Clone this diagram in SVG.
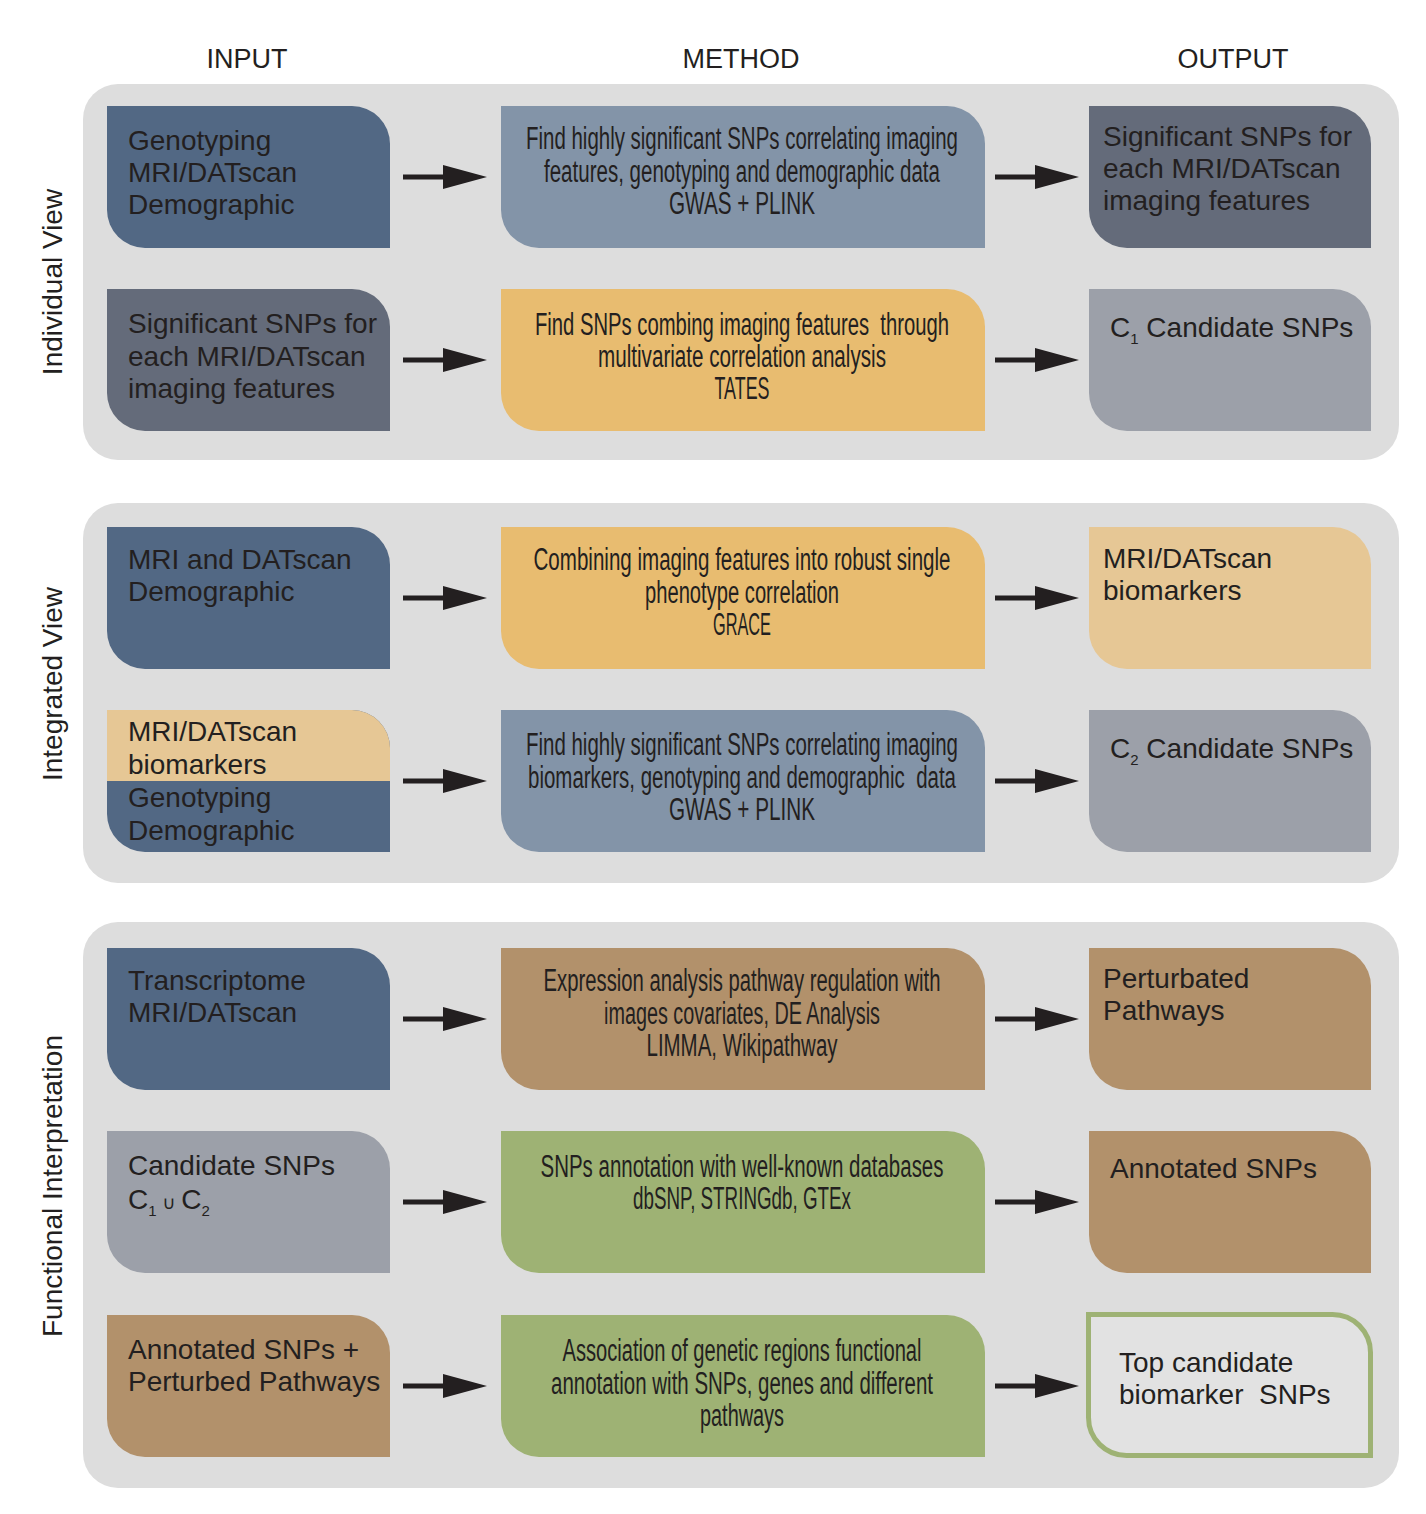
<svg xmlns="http://www.w3.org/2000/svg" xmlns:xlink="http://www.w3.org/1999/xlink" width="1426" height="1514" viewBox="0 0 1426 1514">
<style>
.panel{fill:#dddddd}
.hdr{font-family:"Liberation Sans",Arial,sans-serif;font-size:27px;fill:#231f20;text-anchor:middle}
.side{font-family:"Liberation Sans",Arial,sans-serif;font-size:28px;fill:#231f20;text-anchor:middle}
.nt{font-family:"Liberation Sans",Arial,sans-serif;font-size:28px;fill:#231f20;white-space:pre}
.mt{font-family:"Liberation Sans Narrow","Liberation Sans",Arial,sans-serif;font-size:31px;fill:#231f20;text-anchor:middle;white-space:pre}
.sub{font-size:15px}
.blue{fill:#526884}
.slate{fill:#8394a8}
.dgray{fill:#646b7a}
.lgray{fill:#9ca0a9}
.yel{fill:#e8bc70}
.lyel{fill:#e6c795}
.brown{fill:#b2916b}
.green{fill:#9eb274}
.conn line{stroke:#231f20;stroke-width:5}
</style>
<defs>
<path id="inShape" d="M107 0 H352 A38 38 0 0 1 390 38 V142 H145 A38 38 0 0 1 107 104 Z"/>
<path id="mShape" d="M501 0 H947 A38 38 0 0 1 985 38 V142 H539 A38 38 0 0 1 501 104 Z"/>
<path id="outShape" d="M1089 0 H1333 A38 38 0 0 1 1371 38 V142 H1127 A38 38 0 0 1 1089 104 Z"/>
<marker id="ah" markerUnits="userSpaceOnUse" markerWidth="44" markerHeight="24" refX="7" refY="12" orient="auto" viewBox="0 0 44 24">
<path d="M0 0 L44 12 L0 24 Z" fill="#231f20"/>
</marker>
</defs>
<rect width="1426" height="1514" fill="#ffffff"/>

<g id="headers">
<text class="hdr" x="247" y="68">INPUT</text>
<text class="hdr" x="741" y="68">METHOD</text>
<text class="hdr" x="1233" y="68">OUTPUT</text>
</g>

<g id="panels">
<rect class="panel" x="83" y="84" width="1316" height="376" rx="35"/>
<rect class="panel" x="83" y="503" width="1316" height="380" rx="35"/>
<rect class="panel" x="83" y="922" width="1316" height="566" rx="35"/>
<text class="side" transform="translate(62 282) rotate(-90)">Individual View</text>
<text class="side" transform="translate(62 684) rotate(-90)">Integrated View</text>
<text class="side" transform="translate(62 1186) rotate(-90)">Functional Interpretation</text>
</g>

<!-- Row 1 -->
<g id="in1"><use href="#inShape" y="106" class="blue"/>
<text class="nt" x="128" y="150">Genotyping</text>
<text class="nt" x="128" y="182">MRI/DATscan</text>
<text class="nt" x="128" y="214">Demographic</text></g>
<g id="m1"><use href="#mShape" y="106" class="slate"/>
<text class="mt" x="742" y="149" textLength="432" lengthAdjust="spacingAndGlyphs">Find highly significant SNPs correlating imaging</text>
<text class="mt" x="742" y="182" textLength="396" lengthAdjust="spacingAndGlyphs">features, genotyping and demographic data</text>
<text class="mt" x="742" y="214" textLength="146" lengthAdjust="spacingAndGlyphs">GWAS + PLINK</text></g>
<g id="out1"><use href="#outShape" y="106" class="dgray"/>
<text class="nt" x="1103" y="146">Significant SNPs for</text>
<text class="nt" x="1103" y="178">each MRI/DATscan</text>
<text class="nt" x="1103" y="210">imaging features</text></g>

<!-- Row 2 -->
<g id="in2"><use href="#inShape" y="289" class="dgray"/>
<text class="nt" x="128" y="333">Significant SNPs for</text>
<text class="nt" x="128" y="366">each MRI/DATscan</text>
<text class="nt" x="128" y="398">imaging features</text></g>
<g id="m2"><use href="#mShape" y="289" class="yel"/>
<text class="mt" x="742" y="335" textLength="414" lengthAdjust="spacingAndGlyphs">Find SNPs combing imaging features  through</text>
<text class="mt" x="742" y="367" textLength="288" lengthAdjust="spacingAndGlyphs">multivariate correlation analysis</text>
<text class="mt" x="742" y="399" textLength="55" lengthAdjust="spacingAndGlyphs">TATES</text></g>
<g id="out2"><use href="#outShape" y="289" class="lgray"/>
<text class="nt" x="1110" y="337">C<tspan class="sub" dy="7">1</tspan><tspan dy="-7"> Candidate SNPs</tspan></text></g>

<!-- Row 3 -->
<g id="in3"><use href="#inShape" y="527" class="blue"/>
<text class="nt" x="128" y="569">MRI and DATscan</text>
<text class="nt" x="128" y="601">Demographic</text></g>
<g id="m3"><use href="#mShape" y="527" class="yel"/>
<text class="mt" x="742" y="570" textLength="417" lengthAdjust="spacingAndGlyphs">Combining imaging features into robust single</text>
<text class="mt" x="742" y="603" textLength="194" lengthAdjust="spacingAndGlyphs">phenotype correlation</text>
<text class="mt" x="742" y="635" textLength="58" lengthAdjust="spacingAndGlyphs">GRACE</text></g>
<g id="out3"><use href="#outShape" y="527" class="lyel"/>
<text class="nt" x="1103" y="568">MRI/DATscan</text>
<text class="nt" x="1103" y="600">biomarkers</text></g>

<!-- Row 4 -->
<g id="in4"><use href="#inShape" y="710" class="blue"/>
<path class="lyel" d="M107 710 H352 A38 38 0 0 1 390 748 V781 H107 Z"/>
<text class="nt" x="128" y="741">MRI/DATscan</text>
<text class="nt" x="128" y="774">biomarkers</text>
<text class="nt" x="128" y="807">Genotyping</text>
<text class="nt" x="128" y="840">Demographic</text></g>
<g id="m4"><use href="#mShape" y="710" class="slate"/>
<text class="mt" x="742" y="755" textLength="432" lengthAdjust="spacingAndGlyphs">Find highly significant SNPs correlating imaging</text>
<text class="mt" x="742" y="788" textLength="428" lengthAdjust="spacingAndGlyphs">biomarkers, genotyping and demographic  data</text>
<text class="mt" x="742" y="820" textLength="146" lengthAdjust="spacingAndGlyphs">GWAS + PLINK</text></g>
<g id="out4"><use href="#outShape" y="710" class="lgray"/>
<text class="nt" x="1110" y="758">C<tspan class="sub" dy="7">2</tspan><tspan dy="-7"> Candidate SNPs</tspan></text></g>

<!-- Row 5 -->
<g id="in5"><use href="#inShape" y="948" class="blue"/>
<text class="nt" x="128" y="990">Transcriptome</text>
<text class="nt" x="128" y="1022">MRI/DATscan</text></g>
<g id="m5"><use href="#mShape" y="948" class="brown"/>
<text class="mt" x="742" y="991" textLength="397" lengthAdjust="spacingAndGlyphs">Expression analysis pathway regulation with</text>
<text class="mt" x="742" y="1024" textLength="276" lengthAdjust="spacingAndGlyphs">images covariates, DE Analysis</text>
<text class="mt" x="742" y="1056" textLength="191" lengthAdjust="spacingAndGlyphs">LIMMA, Wikipathway</text></g>
<g id="out5"><use href="#outShape" y="948" class="brown"/>
<text class="nt" x="1103" y="988">Perturbated</text>
<text class="nt" x="1103" y="1020">Pathways</text></g>

<!-- Row 6 -->
<g id="in6"><use href="#inShape" y="1131" class="lgray"/>
<text class="nt" x="128" y="1175">Candidate SNPs</text>
<text class="nt" x="128" y="1209">C<tspan class="sub" dy="7">1</tspan><tspan dy="-7" font-size="18" font-family="DejaVu Sans, sans-serif"> ∪ </tspan>C<tspan class="sub" dy="7">2</tspan></text></g>
<g id="m6"><use href="#mShape" y="1131" class="green"/>
<text class="mt" x="742" y="1177" textLength="403" lengthAdjust="spacingAndGlyphs">SNPs annotation with well-known databases</text>
<text class="mt" x="742" y="1209" textLength="218" lengthAdjust="spacingAndGlyphs">dbSNP, STRINGdb, GTEx</text></g>
<g id="out6"><use href="#outShape" y="1131" class="brown"/>
<text class="nt" x="1110" y="1178">Annotated SNPs</text></g>

<!-- Row 7 -->
<g id="in7"><use href="#inShape" y="1315" class="brown"/>
<text class="nt" x="128" y="1359">Annotated SNPs +</text>
<text class="nt" x="128" y="1391">Perturbed Pathways</text></g>
<g id="m7"><use href="#mShape" y="1315" class="green"/>
<text class="mt" x="742" y="1361" textLength="359" lengthAdjust="spacingAndGlyphs">Association of genetic regions functional</text>
<text class="mt" x="742" y="1394" textLength="382" lengthAdjust="spacingAndGlyphs">annotation with SNPs, genes and different</text>
<text class="mt" x="742" y="1426" textLength="84" lengthAdjust="spacingAndGlyphs">pathways</text></g>
<g id="out7">
<path d="M1088.5 1314.5 H1332.5 A38 38 0 0 1 1370.5 1352.5 V1455.5 H1126.5 A38 38 0 0 1 1088.5 1417.5 Z" fill="#e2e2e2" stroke="#9eb274" stroke-width="5"/>
<text class="nt" x="1119" y="1372">Top candidate</text>
<text class="nt" x="1119" y="1404">biomarker  SNPs</text></g>

<g id="connectors" class="conn">
<line x1="403" y1="177" x2="450" y2="177" marker-end="url(#ah)"/>
<line x1="995" y1="177" x2="1042" y2="177" marker-end="url(#ah)"/>
<line x1="403" y1="360" x2="450" y2="360" marker-end="url(#ah)"/>
<line x1="995" y1="360" x2="1042" y2="360" marker-end="url(#ah)"/>
<line x1="403" y1="598" x2="450" y2="598" marker-end="url(#ah)"/>
<line x1="995" y1="598" x2="1042" y2="598" marker-end="url(#ah)"/>
<line x1="403" y1="781" x2="450" y2="781" marker-end="url(#ah)"/>
<line x1="995" y1="781" x2="1042" y2="781" marker-end="url(#ah)"/>
<line x1="403" y1="1019" x2="450" y2="1019" marker-end="url(#ah)"/>
<line x1="995" y1="1019" x2="1042" y2="1019" marker-end="url(#ah)"/>
<line x1="403" y1="1202" x2="450" y2="1202" marker-end="url(#ah)"/>
<line x1="995" y1="1202" x2="1042" y2="1202" marker-end="url(#ah)"/>
<line x1="403" y1="1386" x2="450" y2="1386" marker-end="url(#ah)"/>
<line x1="995" y1="1386" x2="1042" y2="1386" marker-end="url(#ah)"/>
</g>
</svg>
